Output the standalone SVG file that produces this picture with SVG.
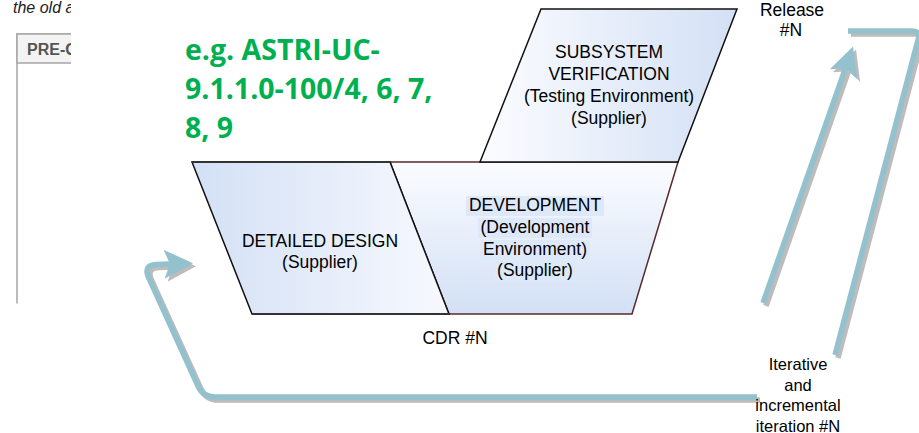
<svg xmlns="http://www.w3.org/2000/svg" width="919" height="433" viewBox="0 0 919 433">
  <style>
    .lbl { font-family: "Liberation Sans", Arial, sans-serif; font-size: 17.5px; fill: #000; text-anchor: middle; }
    .small { font-size: 16.5px; }
    .note { font-family: "Open Sans", "Liberation Sans", sans-serif; font-weight: bold; font-size: 28.5px; fill: #00b050; }
    .flow { fill: none; stroke: #93c1cd; stroke-width: 5.5; stroke-linejoin: round; }
    .flow-shadow { fill: none; stroke: #bcbcbc; stroke-width: 5.5; stroke-linejoin: round; }
    .hl { fill: #dde8f9; }
  </style>
  <defs>
    <clipPath id="leftClip">
      <rect x="0" y="0" width="71" height="303.5"/>
    </clipPath>
    <linearGradient id="gDesign" x1="0" y1="0" x2="1" y2="0">
      <stop offset="0" stop-color="#d3e0f5"/>
      <stop offset="1" stop-color="#f7f9fe"/>
    </linearGradient>
    <linearGradient id="gDev" x1="0" y1="0" x2="0" y2="1">
      <stop offset="0" stop-color="#fbfcff"/>
      <stop offset="1" stop-color="#d3e0f5"/>
    </linearGradient>
    <linearGradient id="gVerif" x1="0" y1="0" x2="1" y2="0">
      <stop offset="0" stop-color="#fbfcff"/>
      <stop offset="1" stop-color="#d3e0f5"/>
    </linearGradient>
    <marker id="head" markerUnits="userSpaceOnUse" markerWidth="29" markerHeight="29" viewBox="0 0 29 29" refX="6" refY="14.5" orient="auto">
      <path d="M0,0 L29,14.5 L0,29 L6,14.5 Z" fill="#93c1cd"/>
    </marker>
    <marker id="headShadow" markerUnits="userSpaceOnUse" markerWidth="29" markerHeight="29" viewBox="0 0 29 29" refX="6" refY="14.5" orient="auto">
      <path d="M0,0 L29,14.5 L0,29 L6,14.5 Z" fill="#bcbcbc"/>
    </marker>
  </defs>

  <rect width="919" height="433" fill="#fff"/>

  <!-- partly hidden panel and caption at the left edge -->
  <g id="pre-panel" clip-path="url(#leftClip)">
    <text x="13" y="12.5" font-family="Liberation Sans, Arial, sans-serif" font-size="16" font-style="italic" fill="#222">the old a</text>
    <rect x="17" y="34" width="200" height="290" fill="#fff" stroke="#a6a6a6" stroke-width="1.5"/>
    <rect x="17" y="34" width="200" height="29" fill="#f3f3f3" stroke="#a6a6a6" stroke-width="1.5"/>
    <text x="27" y="55" font-family="Liberation Sans, Arial, sans-serif" font-size="16" font-weight="bold" fill="#555">PRE-C</text>
  </g>

  <!-- green note -->
  <g id="note">
    <text class="note" x="185" y="60">e.g. ASTRI-UC-</text>
    <text class="note" x="185" y="99">9.1.1.0-100/4, 6, 7,</text>
    <text class="note" x="185" y="138">8, 9</text>
  </g>

  <!-- connectors -->
  <g id="connectors">
    <g transform="translate(3,3)">
      <path class="flow-shadow" d="M757,397 L215,397 Q203,397 198,386 L148,276 Q144,265 156,264.5 L170,264" marker-end="url(#headShadow)"/>
      <path class="flow-shadow" d="M763,303 L845.4,68.3" marker-end="url(#headShadow)"/>
      <path class="flow-shadow" d="M835,355 L918,40 Q921,31 912,31 L848,31"/>
    </g>
    <path id="loop-back" class="flow" d="M757,397 L215,397 Q203,397 198,386 L148,276 Q144,265 156,264.5 L170,264" marker-end="url(#head)"/>
    <path id="to-release" class="flow" d="M763,303 L845.4,68.3" marker-end="url(#head)"/>
    <path id="release-return" class="flow" d="M835,355 L918,40 Q921,31 912,31 L848,31"/>
  </g>

  <!-- development stage -->
  <g id="development">
    <polygon points="390,162 678,162 632,314 449,314" fill="url(#gDev)" stroke="#5a2a2a" stroke-width="1.5"/>
    <rect class="hl" x="466" y="196" width="138" height="20"/>
    <rect class="hl" x="478" y="218" width="114" height="20"/>
    <rect class="hl" x="480" y="240" width="110" height="20"/>
    <rect class="hl" x="494" y="261" width="82" height="20"/>
    <text class="lbl" x="535" y="211">DEVELOPMENT</text>
    <text class="lbl" x="535" y="233">(Development</text>
    <text class="lbl" x="535" y="254.5">Environment)</text>
    <text class="lbl" x="535" y="276">(Supplier)</text>
  </g>

  <!-- detailed design stage -->
  <g id="detailed-design">
    <polygon points="192,162 390,162 449,314 252,314" fill="url(#gDesign)" stroke="#111" stroke-width="1.5"/>
    <line x1="192" y1="162" x2="390" y2="162" stroke="#333" stroke-width="2"/>
    <line x1="252" y1="314" x2="449" y2="314" stroke="#333" stroke-width="2"/>
    <text class="lbl" x="320" y="247">DETAILED DESIGN</text>
    <text class="lbl" x="320" y="268">(Supplier)</text>
  </g>

  <!-- subsystem verification stage -->
  <g id="subsystem-verification">
    <polygon points="541,9 737,9 678,162 480,162" fill="url(#gVerif)" stroke="#111" stroke-width="1.5"/>
    <text class="lbl" x="609" y="58">SUBSYSTEM</text>
    <text class="lbl" x="609" y="80">VERIFICATION</text>
    <text class="lbl" x="609" y="102">(Testing Environment)</text>
    <text class="lbl" x="609" y="124">(Supplier)</text>
  </g>

  <!-- milestone labels -->
  <g id="cdr">
    <text class="lbl" x="455" y="344">CDR #N</text>
  </g>
  <g id="release">
    <text class="lbl" x="792" y="16">Release</text>
    <text class="lbl" x="791" y="36">#N</text>
  </g>
  <g id="iteration">
    <text class="lbl small" x="798" y="370">Iterative</text>
    <text class="lbl small" x="798" y="390.5">and</text>
    <text class="lbl small" x="798" y="411">incremental</text>
    <text class="lbl small" x="798" y="431.5">iteration #N</text>
  </g>
</svg>
